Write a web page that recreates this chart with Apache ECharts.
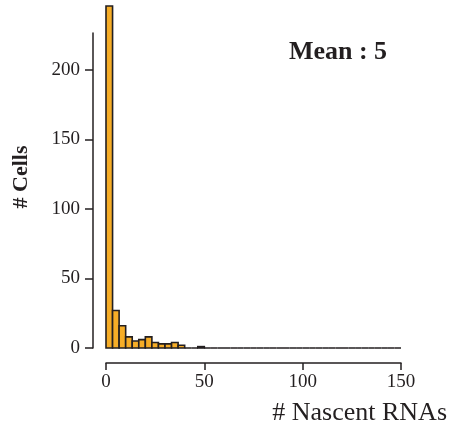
<!DOCTYPE html>
<html>
<head>
<meta charset="utf-8">
<script src="https://cdn.jsdelivr.net/npm/echarts@6/dist/echarts.min.js"></script>
<style>html,body{margin:0;padding:0;background:#fff;}#c{width:449px;height:428px;}</style>
</head>
<body>
<div id="c"></div>
<script>
// Histogram of nascent RNA counts per cell, 45 bins over 0-150
var binWidth = 10 / 3;
var counts = [246, 27, 16, 8, 5, 6, 8, 4, 3, 3, 4, 2, 0, 0, 1,
  0, 0, 0, 0, 0, 0, 0, 0, 0, 0, 0, 0, 0, 0, 0,
  0, 0, 0, 0, 0, 0, 0, 0, 0, 0, 0, 0, 0, 0, 0];
var xTicks = [0, 50, 100, 150];
var yTicks = [0, 50, 100, 150, 200];
var meanLabel = 'Mean : 5';
var xTitle = '# Nascent RNAs';
var yTitle = '# Cells';

var data = counts.map(function (c, i) { return [i * binWidth, (i + 1) * binWidth, c]; });

var chart = echarts.init(document.getElementById('c'), null, { renderer: 'canvas' });
var font = 'Liberation Serif';
var ink = '#231f20';
chart.setOption({
  animation: false,
  backgroundColor: '#fff',
  grid: { left: 106, right: 48, top: 33, bottom: 80 },
  xAxis: {
    type: 'value', min: 0, max: 150, interval: 50, offset: 15,
    axisLine: { show: true, onZero: false, lineStyle: { color: ink, width: 1.5 } },
    axisTick: { show: true, length: 7, lineStyle: { color: ink, width: 1.5 }, customValues: xTicks },
    axisLabel: { color: ink, fontFamily: font, fontSize: 19, margin: 10, customValues: xTicks },
    splitLine: { show: false }
  },
  yAxis: {
    type: 'value', min: 0, max: 226.6, offset: 13,
    axisLine: { show: true, onZero: false, lineStyle: { color: ink, width: 1.5 } },
    axisTick: { show: true, length: 8, lineStyle: { color: ink, width: 1.5 }, customValues: yTicks },
    axisLabel: { color: ink, fontFamily: font, fontSize: 19, margin: 13, customValues: yTicks },
    splitLine: { show: false }
  },
  series: [{
    type: 'custom',
    clip: false,
    data: data,
    encode: { x: [0, 1], y: 2 },
    renderItem: function (params, api) {
      var x0 = api.value(0), x1 = api.value(1), c = api.value(2);
      var p0 = api.coord([x0, 0]);
      var p1 = api.coord([x1, c]);
      if (c === 0) {
        return { type: 'line', shape: { x1: p0[0], y1: p0[1], x2: p1[0], y2: p0[1] },
          style: { stroke: ink, lineWidth: 1.5 } };
      }
      return { type: 'rect', shape: { x: p0[0], y: p1[1], width: p1[0] - p0[0], height: p0[1] - p1[1] },
        style: { fill: '#f6ad27', stroke: ink, lineWidth: 1.6 } };
    }
  }],
  graphic: [
    { type: 'text', x: 338, y: 52, style: { text: meanLabel, font: 'bold 26px "Liberation Serif"', fill: ink, align: 'center', verticalAlign: 'middle' } },
    { type: 'text', x: 447, y: 413, style: { text: xTitle, font: '26px "Liberation Serif"', fill: ink, align: 'right', verticalAlign: 'middle' } },
    { type: 'text', x: 21, y: 177, rotation: Math.PI / 2, style: { text: yTitle, font: 'bold 22px "Liberation Serif"', fill: ink, align: 'center', verticalAlign: 'middle' } }
  ]
});
</script>
</body>
</html>
